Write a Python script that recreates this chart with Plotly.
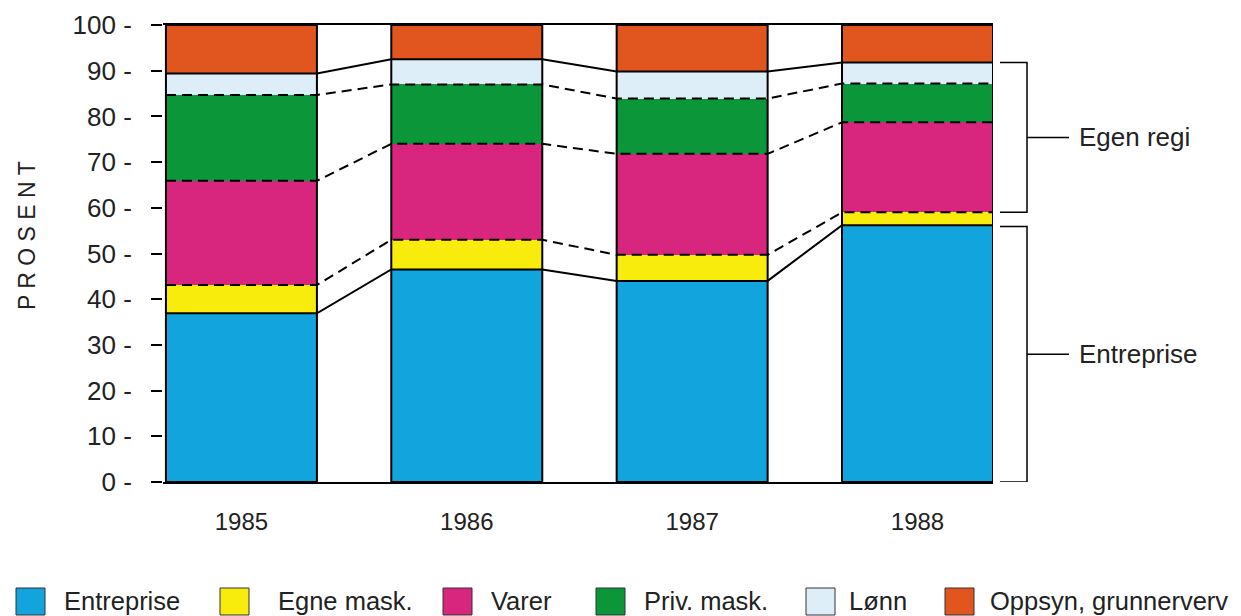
import plotly.graph_objects as go

# data (share of total, percent)
years = ["1985", "1986", "1987", "1988"]
entreprise = [36.9, 46.5, 44.0, 56.2]
egne_mask = [6.2, 6.5, 5.7, 2.8]
varer = [22.8, 21.0, 22.1, 19.7]
priv_mask = [18.8, 13.0, 12.1, 8.5]
lonn = [4.7, 5.5, 5.9, 4.6]
oppsyn = [10.6, 7.5, 10.2, 8.2]

names = ["Entreprise", "Egne mask.", "Varer", "Priv. mask.", "Lønn", "Oppsyn, grunnerverv"]
series = [entreprise, egne_mask, varer, priv_mask, lonn, oppsyn]
colors = ["#12a5dd", "#f8ec0c", "#d8267e", "#0b963a", "#ddeef8", "#e0561e"]
dashed = [False, True, True, True, False]

y_ticks = list(range(0, 101, 10))

# page has an 8px body margin, so work in screen pixels and shift
OFF = 8
W, H = 1241, 616
L, T = 163 - OFF, 25 - OFF
R = W - (993 - OFF)
B = H - (482 - OFF)
PW, PH = W - L - R, H - T - B


def px(x):
    return (x - OFF - L) / PW


def py(y):
    return (H - B - (y - OFF)) / PH


hw = 0.335
xs = list(range(len(years)))
font = "Liberation Sans, Arial, sans-serif"

fig = go.Figure()

for name, vals, col in zip(names, series, colors):
    fig.add_trace(go.Bar(x=xs, y=vals, name=name, width=2 * hw,
                         marker=dict(color=col, line=dict(width=0))))

# boundary lines between segments, connecting the bars
cum = [0.0] * len(years)
for k in range(5):
    cum = [c + v for c, v in zip(cum, series[k])]
    lx, ly = [], []
    for i, c in enumerate(cum):
        lx += [i - hw, i + hw]
        ly += [c, c]
    fig.add_trace(go.Scatter(x=lx, y=ly, mode="lines", hoverinfo="skip",
                             line=dict(color="black", width=2,
                                       dash="10px,6px" if dashed[k] else "solid")))

shapes = []
for i in xs:
    shapes.append(dict(type="rect", xref="x", yref="y", x0=i - hw, x1=i + hw,
                       y0=0, y1=100, line=dict(color="black", width=2)))

# brackets on the right (based on last year)
last = len(years) - 1
ent_top = entreprise[last]
egen_bot = entreprise[last] + egne_mask[last]
egen_top = egen_bot + varer[last] + priv_mask[last] + lonn[last]
annotations = []
for lo, hi, label in [(0, ent_top - 0.3, "Entreprise"), (egen_bot, egen_top, "Egen regi")]:
    x0, x1, x2 = px(1000), px(1027), px(1069)
    shapes.append(dict(type="path", xref="paper", yref="y",
                       path=f"M {x0},{hi} L {x1},{hi} L {x1},{lo} L {x0},{lo}",
                       line=dict(color="black", width=1.5)))
    mid = (lo + hi) / 2
    shapes.append(dict(type="line", xref="paper", yref="y", x0=x1, x1=x2, y0=mid, y1=mid,
                       line=dict(color="black", width=1.5)))
    annotations.append(dict(xref="paper", yref="y", x=px(1077), y=mid, text=label,
                            xanchor="left", yanchor="middle", showarrow=False,
                            font=dict(size=26, color="#222")))

# custom legend row
swatch_x = [16, 220, 443, 596, 806, 945]
text_x = [62, 276, 489, 642, 847, 988]
for sx, tx, name, col in zip(swatch_x, text_x, names, colors):
    shapes.append(dict(type="rect", xref="paper", yref="paper",
                       x0=px(sx), x1=px(sx + 29), y0=py(615), y1=py(588),
                       fillcolor=col, line=dict(color="#333", width=1)))
    annotations.append(dict(xref="paper", yref="paper", x=px(tx), y=py(601), text=name,
                            xanchor="left", yanchor="middle", showarrow=False,
                            font=dict(size=25.5, color="#222")))

# y-axis title
annotations.append(dict(xref="paper", yref="paper", x=px(27), y=py(236),
                        text="P R O S E N T", textangle=-90, showarrow=False,
                        xanchor="center", yanchor="middle",
                        font=dict(size=23, color="#222")))

fig.update_layout(
    barmode="stack",
    width=W, height=H,
    margin=dict(l=L, r=R, t=T, b=B, autoexpand=False),
    plot_bgcolor="white", paper_bgcolor="white",
    showlegend=False,
    font=dict(family=font, color="#222"),
    xaxis=dict(range=[-0.348, 3.335], tickvals=xs, ticktext=years,
               showgrid=False, zeroline=False, showline=True, mirror=True,
               linecolor="black", linewidth=2, ticks="",
               tickfont=dict(size=24), ticklabelstandoff=17),
    yaxis=dict(range=[0, 100], tickvals=y_ticks, ticktext=[f"{v} -" for v in y_ticks],
               showgrid=False, zeroline=False, showline=False,
               ticks="outside", ticklen=11, tickwidth=2, tickcolor="black",
               tickfont=dict(size=26), ticklabelstandoff=14),
    shapes=shapes,
    annotations=annotations,
)

fig.write_html("out.html")
